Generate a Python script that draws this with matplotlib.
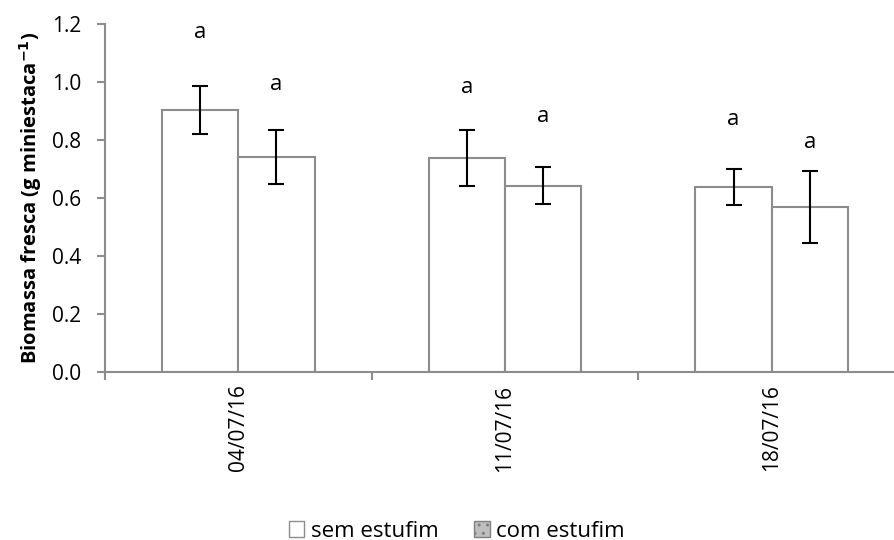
import matplotlib
matplotlib.use("Agg")
import matplotlib.pyplot as plt
from matplotlib.patches import Patch
import numpy as np

categories = ["04/07/16", "11/07/16", "18/07/16"]
sem_estufim = [0.903, 0.737, 0.638]
sem_err = [0.083, 0.097, 0.062]
com_estufim = [0.741, 0.643, 0.569]
com_err = [0.092, 0.065, 0.123]
sem_letters = ["a", "a", "a"]
com_letters = ["a", "a", "a"]
sem_letter_y = [1.17, 0.98, 0.87]
com_letter_y = [0.99, 0.88, 0.79]

plt.rcParams['font.family'] = ['Open Sans', 'DejaVu Sans']
grey = "#8c8c8c"

fig = plt.figure(figsize=(8.94, 5.4), dpi=100)
ax = fig.add_axes([105/894, 168/540, 800/894, 348/540])

x = np.arange(len(categories))
w = 0.286
ax.bar(x - w/2, sem_estufim, w, color="white", edgecolor=grey, linewidth=1.5, zorder=2)
ax.bar(x + w/2, com_estufim, w, color="white", edgecolor=grey, linewidth=1.5, zorder=2)
ax.errorbar(x - w/2, sem_estufim, yerr=sem_err, fmt="none", ecolor="black", elinewidth=1.5, capsize=6, capthick=1.5, zorder=3)
ax.errorbar(x + w/2, com_estufim, yerr=com_err, fmt="none", ecolor="black", elinewidth=1.5, capsize=6, capthick=1.5, zorder=3)

for i in range(len(categories)):
    ax.text(x[i] - w/2, sem_letter_y[i], sem_letters[i], ha="center", va="center", fontsize=16)
    ax.text(x[i] + w/2, com_letter_y[i], com_letters[i], ha="center", va="center", fontsize=16)

ax.set_xlim(-0.5, 2.5)
ax.set_ylim(0, 1.2)
ax.set_yticks(np.arange(0, 1.21, 0.2))
ax.set_yticklabels([f"{v:.1f}" for v in np.arange(0, 1.21, 0.2)], fontsize=15)
ax.set_xticks([-0.5, 0.5, 1.5, 2.5])
ax.set_xticklabels([])
ax.set_xticks(x, minor=True)
ax.set_xticklabels(categories, minor=True, rotation=90, fontsize=15)
ax.tick_params(axis="x", which="minor", length=0, pad=9)
ax.tick_params(axis="x", which="major", length=6, color=grey, width=1.5, direction="out")
ax.tick_params(axis="y", length=6, color=grey, width=1.5, direction="out", pad=11)

for s in ["top", "right"]:
    ax.spines[s].set_visible(False)
for s in ["left", "bottom"]:
    ax.spines[s].set_color(grey)
    ax.spines[s].set_linewidth(1.5)

ax.set_ylabel("Biomassa fresca (g miniestaca$^{\\mathbf{-1}}$)", fontsize=14.5, fontweight="bold", labelpad=6)

handles = [Patch(facecolor="white", edgecolor=grey, linewidth=1),
           Patch(facecolor="#bfbfbf", edgecolor="#808080", hatch="..", linewidth=1)]
fig.legend(handles, ["sem estufim", "com estufim"], loc="lower center", bbox_to_anchor=(0.511, -0.04),
           ncol=2, frameon=False, fontsize=16, handlelength=0.7, handleheight=0.7,
           handletextpad=0.3, columnspacing=1.6)

fig.savefig("out.png", dpi=100)
